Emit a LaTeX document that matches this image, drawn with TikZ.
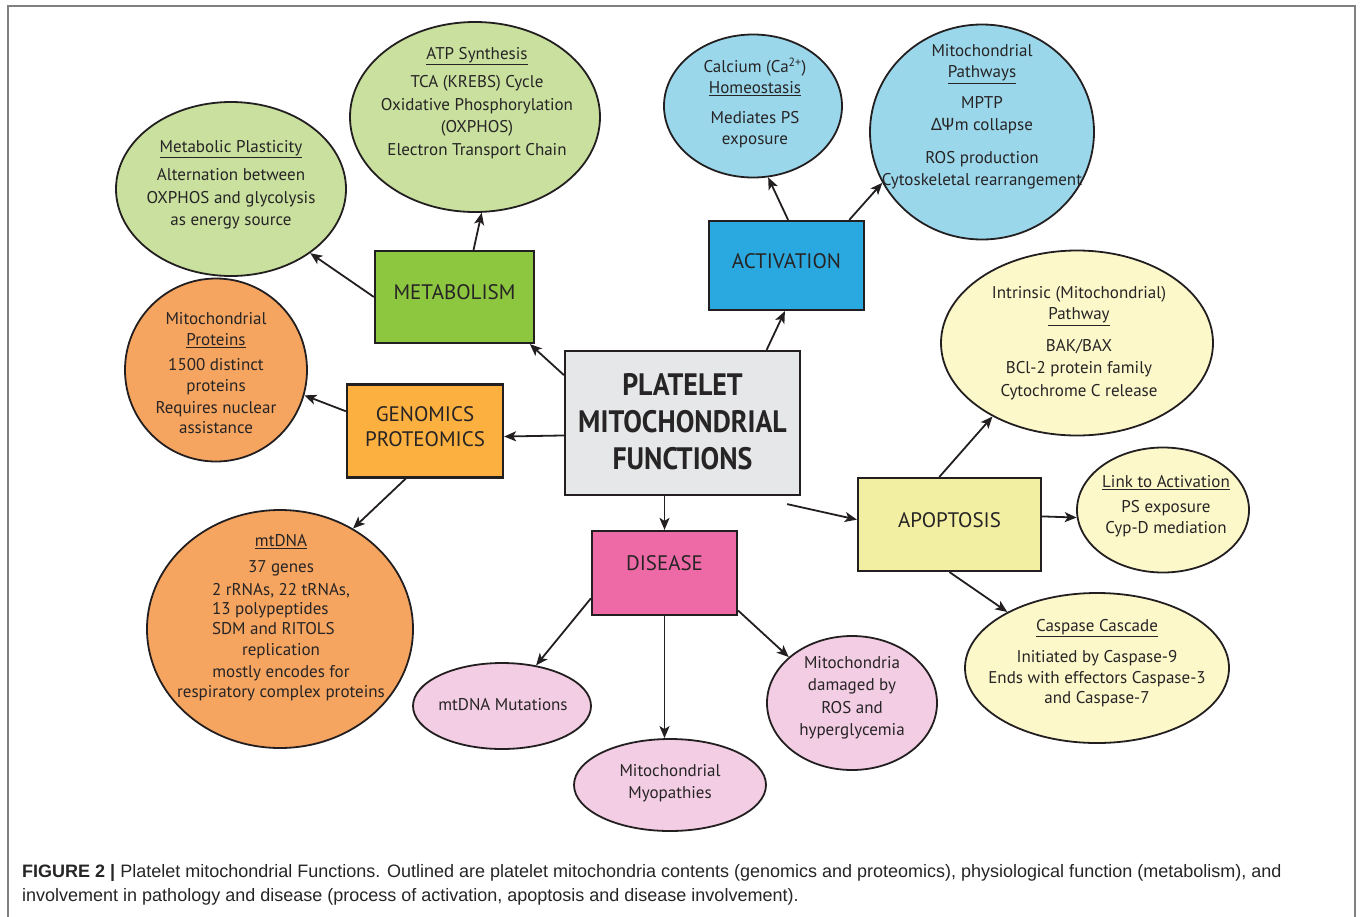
\documentclass[tikz,border=0pt]{standalone}
\usepackage{fontspec}
\setmainfont{PT Sans}
\newfontfamily\condfont{PT Sans}[FakeStretch=0.9]
\newfontfamily\grkfont{Noto Sans}
\newfontfamily\capfont{Liberation Sans}
\usetikzlibrary{arrows.meta, shapes.geometric}

\definecolor{ink}{HTML}{231F20}
\definecolor{txtc}{HTML}{262425}
\definecolor{frameg}{HTML}{808080}
\definecolor{metgreen}{HTML}{8DC63F}
\definecolor{lgreen}{HTML}{C9E09E}
\definecolor{genorange}{HTML}{FBB040}
\definecolor{lorange}{HTML}{F6A560}
\definecolor{actblue}{HTML}{29A9E0}
\definecolor{lblue}{HTML}{9BD7EB}
\definecolor{cengray}{HTML}{E6E7E8}
\definecolor{apoyellow}{HTML}{F2EFA3}
\definecolor{lyellow}{HTML}{FCF8CA}
\definecolor{dispink}{HTML}{EE6AA7}
\definecolor{lpink}{HTML}{F3CDE3}

\begin{document}
\begin{tikzpicture}[x=1pt, y=-1pt,
    box/.style={rectangle, draw=ink, line width=2.2pt, text=txtc, align=center, inner sep=0pt,
                text depth=9pt, font=\fontsize{21}{25}\selectfont},
    bubble/.style={ellipse, draw=ink, line width=1.8pt, fill=#1, inner sep=0pt},
    txt/.style={text=txtc, align=center, inner sep=0pt, font=\fontsize{17}{22.5}\selectfont},
    size/.style 2 args={minimum width=#1pt, minimum height=#2pt},
    arr/.style={draw=ink, line width=1.8pt, -{Stealth[length=12pt, width=10pt, inset=3pt]}}]
    \useasboundingbox (0,0) rectangle (1360,916);

    % Frame
    \draw[frameg, line width=2pt] (8,930) -- (8,6) -- (1355,6) -- (1355,930);

    % Boxes
    \node[box, fill=cengray, size={235}{144}, text depth=4pt,
          font=\condfont\bfseries\fontsize{31}{37}\selectfont] (cen) at (682.5,423)
          {PLATELET\\MITOCHONDRIAL\\FUNCTIONS};
    \node[box, fill=metgreen, size={159}{92}] (met) at (454.5,297) {METABOLISM};
    \node[box, fill=genorange, size={156}{93}] (gen) at (425,431) {GENOMICS\\PROTEOMICS};
    \node[box, fill=actblue, size={155}{89}] (act) at (786.5,265.5) {ACTIVATION};
    \node[box, fill=apoyellow, size={183}{93}] (apo) at (949.5,524.5) {APOPTOSIS};
    \node[box, fill=dispink, size={145}{84}, text depth=20pt] (dis) at (664.5,573) {DISEASE};

    % Bubbles
    \node[bubble=lgreen, size={230}{174}] (plast) at (231,189) {};
    \node[bubble=lgreen, size={250}{190}] (atp) at (475,117) {};
    \node[bubble=lblue, size={178}{143}] (calc) at (753,106) {};
    \node[bubble=lblue, size={224}{215}] (path) at (982,132) {};
    \node[bubble=lorange, size={182}{183}] (prot) at (216,370) {};
    \node[bubble=lorange, size={266}{238}] (mtdna) at (280,629) {};
    \node[bubble=lyellow, size={272}{185}] (intr) at (1077,343) {};
    \node[bubble=lyellow, size={172}{125}] (link) at (1163,510) {};
    \node[bubble=lyellow, size={264}{150}] (casp) at (1097,668) {};
    \node[bubble=lpink, size={178}{86}] (mut) at (502,706) {};
    \node[bubble=lpink, size={192}{92}] (myo) at (670,785) {};
    \node[bubble=lpink, size={170}{134}] (dam) at (852,703) {};

    % Bubble texts
    \node[txt] (plast-t) at (231,185) {\underline{Metabolic Plasticity}\\[6pt]
        Alternation between\\OXPHOS and glycolysis\\as energy source};
    \node[txt] (atp-t) at (477,103) {\underline{ATP Synthesis}\\[6pt]
        TCA (KREBS) Cycle\\Oxidative Phosphorylation\\(OXPHOS)\\Electron Transport Chain};
    \node[txt] (calc-t) at (755,103) {Calcium (Ca\textsuperscript{2+})\\[-1pt]
        \underline{Homeostasis}\\[7pt]Mediates PS\\[-1pt]exposure};
    \node[txt] (path-t) at (982,117) {Mitochondrial\\[-1pt]\underline{Pathways}\\[8pt]
        MPTP\\{\grkfont ΔΨ}m collapse\\[10pt]ROS production\\Cytoskeletal rearrangement};
    \node[txt] (prot-t) at (216,373) {Mitochondrial\\[-1pt]\underline{Proteins}\\[2pt]
        1500 distinct\\[-1pt]proteins\\[-1pt]Requires nuclear\\[-2pt]assistance};
    \node[txt] (mtdna-t) at (281,618) {\underline{mtDNA}\\[3pt]37 genes\\[5pt]
        {\renewcommand{\arraystretch}{0.86}\begin{tabular}{@{}l@{}}2 rRNAs, 22 tRNAs,\\
        13 polypeptides\\SDM and RITOLS\end{tabular}}\\[3pt]
        replication\\[-1pt]mostly encodes for\\[-2pt]respiratory complex proteins};
    \node[txt] (intr-t) at (1079,343) {Intrinsic (Mitochondrial)\\[-1pt]\underline{Pathway}\\[9pt]
        BAK/BAX\\BCl-2 protein family\\Cytochrome C release};
    \node[txt] (link-t) at (1166,506) {\underline{Link to Activation}\\[3pt]
        PS exposure\\[-2pt]Cyp-D mediation};
    \node[txt] (casp-t) at (1097,663) {\underline{Caspase Cascade}\\[9pt]
        Initiated by Caspase-9\\[-2pt]Ends with effectors Caspase-3\\[-2pt]and Caspase-7};
    \node[txt] (mut-t) at (503,705) {mtDNA Mutations};
    \node[txt] (myo-t) at (670,783) {Mitochondrial\\Myopathies};
    \node[txt] (dam-t) at (852,698) {Mitochondria\\damaged by\\ROS and\\hyperglycemia};

    % Arrows
    \draw[arr] (cen.158) -- (met.-32);
    \draw[arr] (cen.186) -- (gen.-4);
    \draw[arr] (cen.41) -- (act.-92);
    \draw[arr] (cen.south -| dis.north) -- (dis.north);
    \draw[arr] ([shift={(-14pt,-8pt)}]cen.south east) -- (apo.177);
    \draw[arr] (met.west) -- (plast.-39);
    \draw[arr] (met.68) -- (atp.-86);
    \draw[arr] (gen.166) -- (prot.-16);
    \draw[arr] (gen.-112) -- (mtdna.54);
    \draw[arr] (act.88) -- (calc.-78);
    \draw[arr] (act.36) -- (path.207);
    \draw[arr] (apo.102) -- (intr.221);
    \draw[arr] (apo.5) -- (link.185);
    \draw[arr] (apo.south) -- (casp.148);
    \draw[arr] (dis.199) -- (mut.50);
    \draw[arr] (dis.south) -- (dis.south |- myo.north);
    \draw[arr] (dis.-27) -- (dam.144);

    % Caption
    \node[anchor=north west, inner sep=0pt, align=left, text=txtc,
          font=\capfont\fontsize{18}{24}\selectfont] (caption) at (22,864)
          {\textbf{FIGURE 2 |} Platelet mitochondrial Functions. Outlined are platelet mitochondria contents (genomics and proteomics), physiological function (metabolism), and\\
           involvement in pathology and disease (process of activation, apoptosis and disease involvement).};
\end{tikzpicture}
\end{document}
